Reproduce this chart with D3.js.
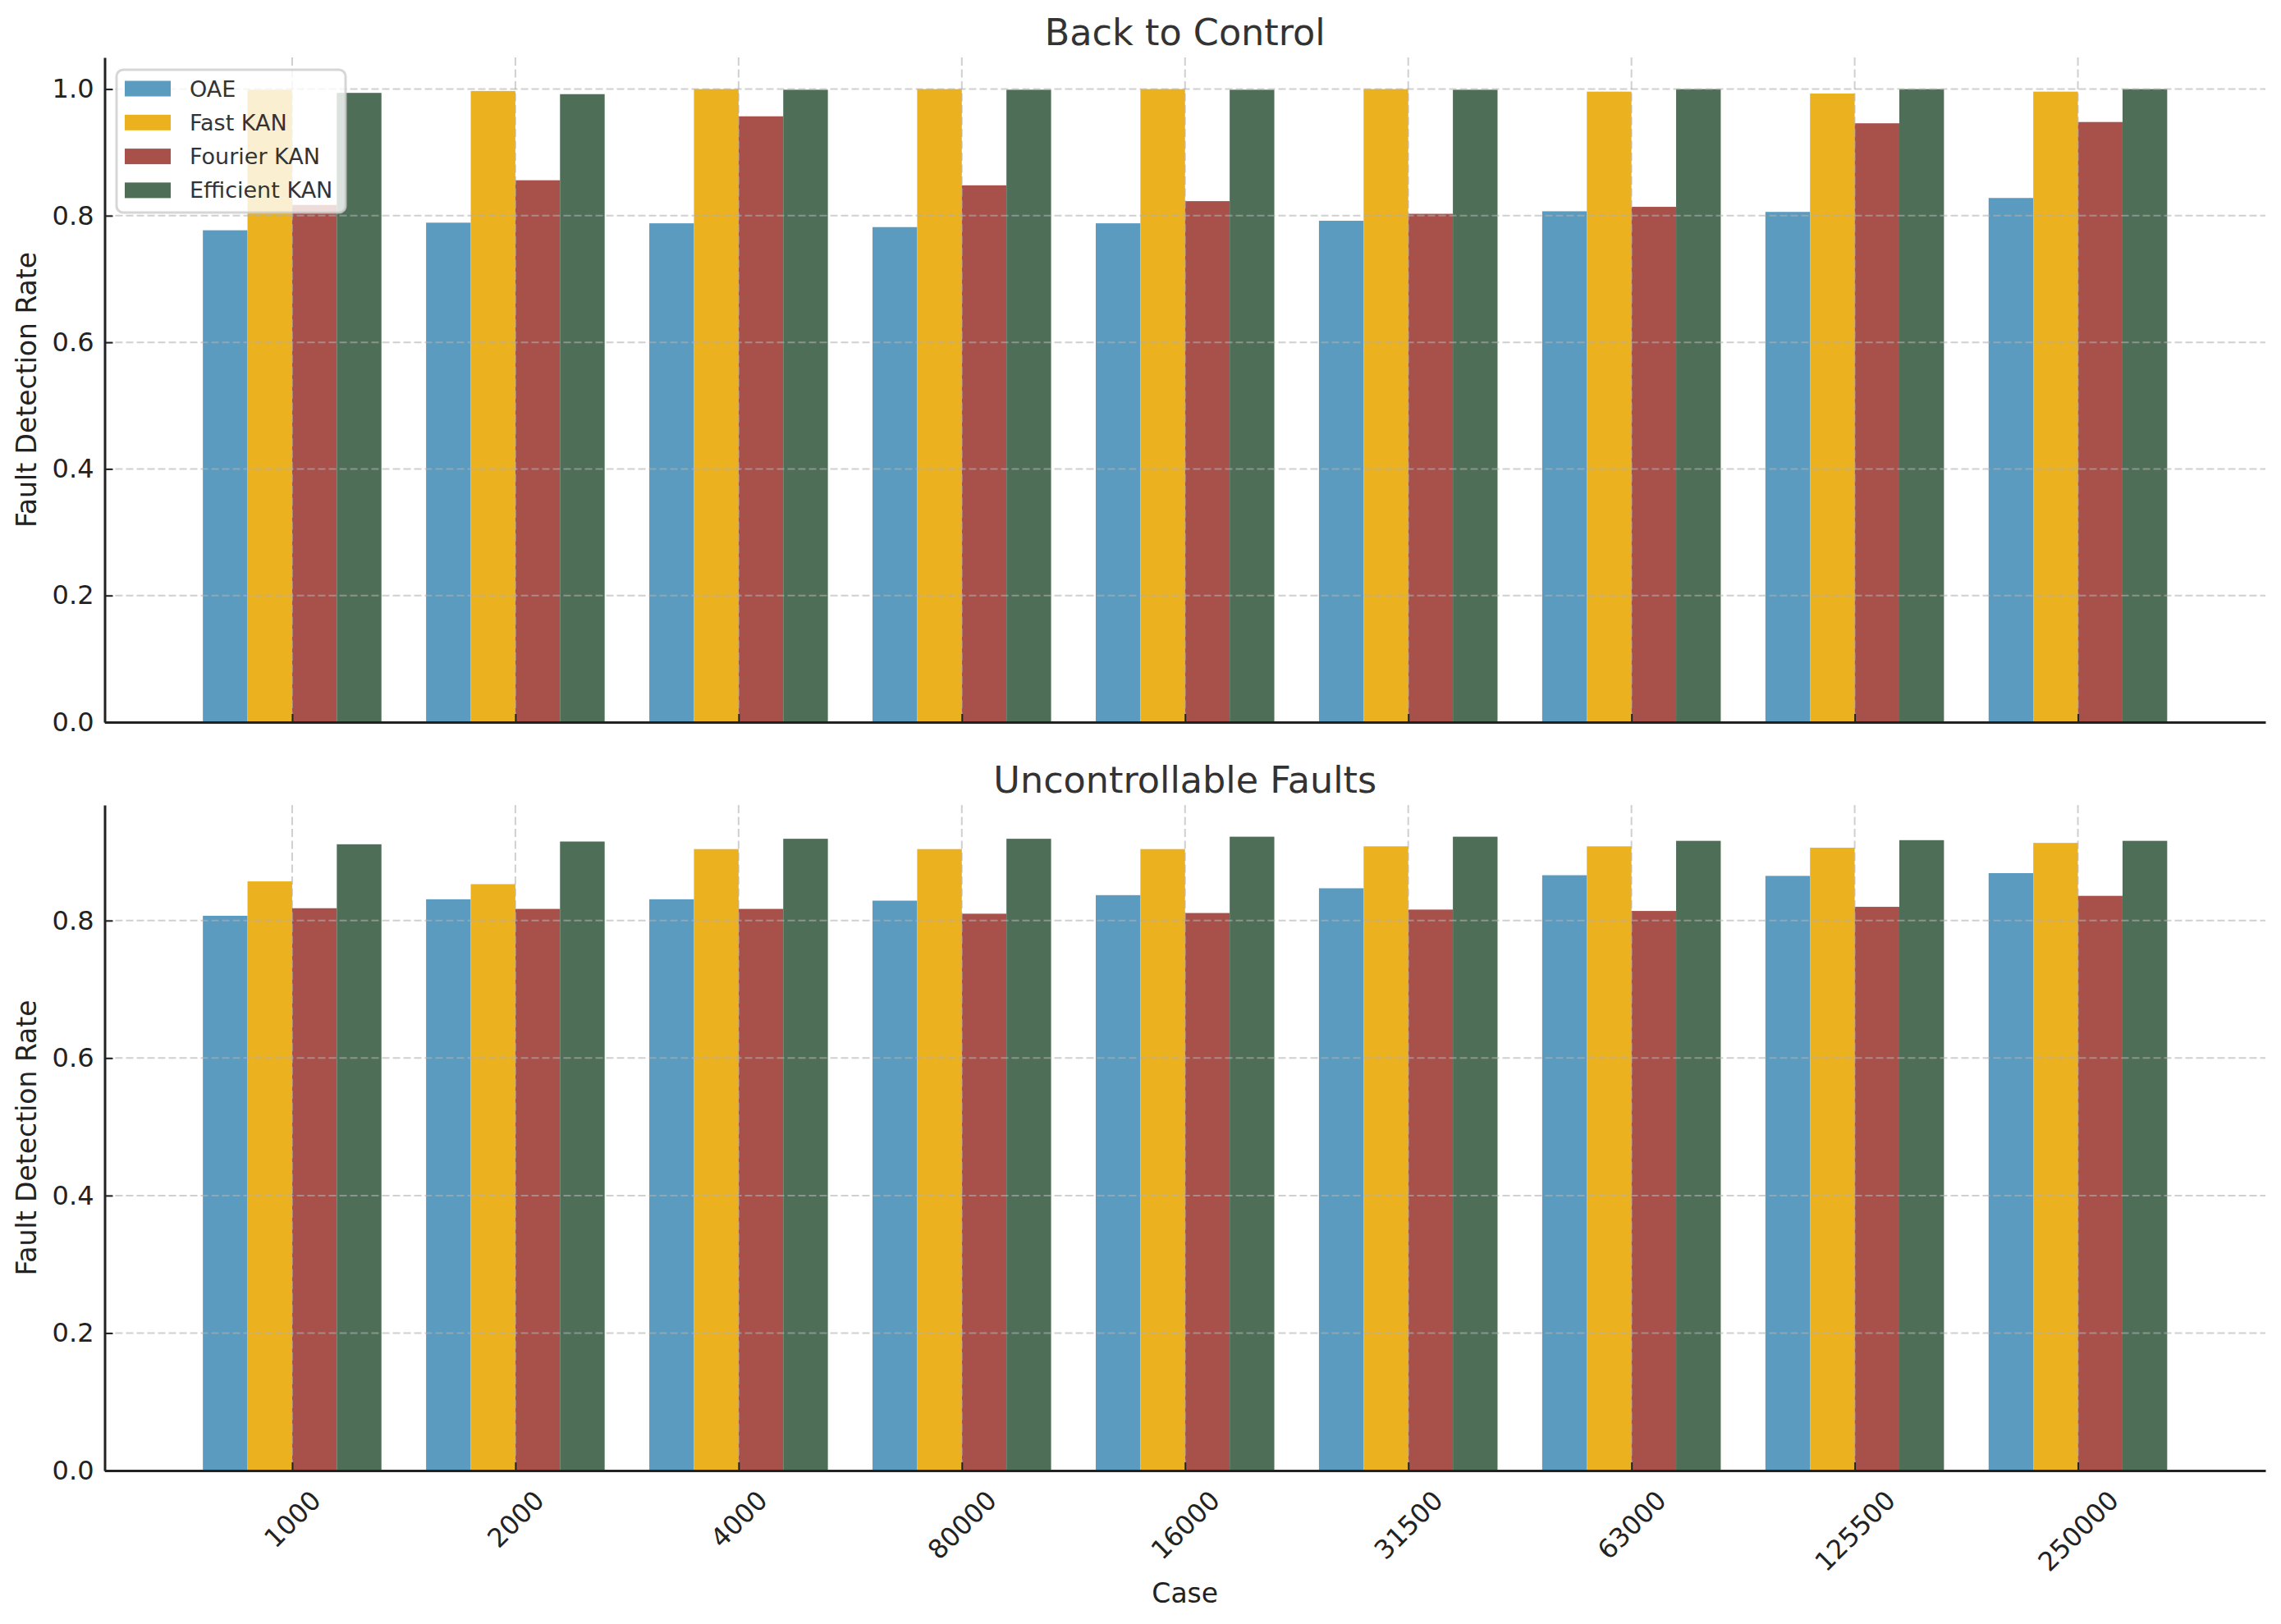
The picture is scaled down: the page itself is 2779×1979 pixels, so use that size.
<!doctype html>
<html>
  <head>
    <meta charset="utf-8" />
    <title>Fault Detection Rate</title>
    <script src="https://cdn.jsdelivr.net/npm/d3@7/dist/d3.min.js"></script>
    <style>
      html,
      body {
        margin: 0;
        padding: 0;
        background: #fff;
        overflow: hidden;
      }
      text {
        font-family: "DejaVu Sans", sans-serif;
      }
    </style>
  </head>
  <body>
    <script>
      // chart data
      const cases = ["1000", "2000", "4000", "80000", "16000", "31500", "63000", "125500", "250000"];
      const models = ["OAE", "Fast KAN", "Fourier KAN", "Efficient KAN"];
      const colors = ["#5b9bbf", "#ecb11f", "#a8504a", "#4f6e57"];

      // Back to Control
      const bcOAE = [0.777, 0.789, 0.788, 0.782, 0.788, 0.792, 0.807, 0.806, 0.828];
      const bcFast = [0.999, 0.997, 1.0, 1.0, 1.0, 1.0, 0.996, 0.993, 0.996];
      const bcFourier = [0.817, 0.856, 0.957, 0.848, 0.823, 0.803, 0.814, 0.946, 0.948];
      const bcEfficient = [0.994, 0.992, 0.999, 0.999, 0.999, 0.999, 1.0, 1.0, 1.0];

      // Uncontrollable Faults
      const ufOAE = [0.807, 0.831, 0.831, 0.829, 0.837, 0.847, 0.866, 0.865, 0.869];
      const ufFast = [0.857, 0.853, 0.904, 0.904, 0.904, 0.908, 0.908, 0.906, 0.913];
      const ufFourier = [0.818, 0.817, 0.817, 0.810, 0.811, 0.816, 0.814, 0.820, 0.836];
      const ufEfficient = [0.911, 0.915, 0.919, 0.919, 0.922, 0.922, 0.916, 0.917, 0.916];

      const yTicksTop = [0, 0.2, 0.4, 0.6, 0.8, 1.0];
      const yTicksBottom = [0, 0.2, 0.4, 0.6, 0.8];

      const width = 2779;
      const height = 1979;
      const left = 127.5;
      const right = 2760;
      const barWidth = 0.2;

      const panels = [
        { title: "Back to Control", series: [bcOAE, bcFast, bcFourier, bcEfficient], top: 70, bottom: 880, ticks: yTicksTop, labels: false, legend: true },
        { title: "Uncontrollable Faults", series: [ufOAE, ufFast, ufFourier, ufEfficient], top: 981, bottom: 1792, ticks: yTicksBottom, labels: true, legend: false },
      ];

      const svg = d3
        .select("body")
        .append("svg")
        .attr("width", width)
        .attr("height", height);

      // bar positions like matplotlib: index -0.4..8.4 plus 5% margin
      const x = d3.scaleLinear().domain([-0.84, cases.length - 1 + 0.84]).range([left, right]);

      panels.forEach((p) => {
        const maxVal = d3.max(p.series.flat());
        const y = d3.scaleLinear().domain([0, maxVal * 1.05]).range([p.bottom, p.top]);
        const g = svg.append("g");

        // bars
        p.series.forEach((vals, k) => {
          g.append("g")
            .attr("fill", colors[k])
            .selectAll("rect")
            .data(vals)
            .join("rect")
            .attr("x", (d, i) => x(i + (k - 1.5) * barWidth - barWidth / 2))
            .attr("width", x(barWidth) - x(0))
            .attr("y", (d) => y(d))
            .attr("height", (d) => y(0) - y(d));
        });

        // grid on top of bars
        const grid = g.append("g").attr("stroke", "#b0b0b0").attr("stroke-opacity", 0.6).attr("stroke-width", 2);
        grid
          .selectAll("line.h")
          .data(p.ticks.filter((t) => t > 0))
          .join("line")
          .attr("class", "h")
          .attr("x1", left)
          .attr("x2", right)
          .attr("y1", (d) => y(d))
          .attr("y2", (d) => y(d))
          .attr("stroke-dasharray", "9,4");
        grid
          .selectAll("line.v")
          .data(d3.range(cases.length))
          .join("line")
          .attr("class", "v")
          .attr("x1", (d) => x(d))
          .attr("x2", (d) => x(d))
          .attr("y1", p.top)
          .attr("y2", p.bottom)
          .attr("stroke-dasharray", "10,4.5");

        // axes
        const yAxis = g
          .append("g")
          .attr("transform", `translate(${left},0)`)
          .call(d3.axisLeft(y).tickValues(p.ticks).tickFormat(d3.format(".1f")).tickSize(-10).tickSizeOuter(0).tickPadding(13));
        yAxis.select(".domain").attr("stroke", "#222").attr("stroke-width", 3);
        yAxis.selectAll(".tick line").attr("stroke", "#222").attr("stroke-width", 2);
        yAxis.selectAll(".tick text").attr("font-size", 32).attr("fill", "#222").attr("font-family", "DejaVu Sans");

        const xAxis = g
          .append("g")
          .attr("transform", `translate(0,${p.bottom})`)
          .call(
            d3
              .axisBottom(x)
              .tickValues(d3.range(cases.length))
              .tickFormat((i) => (p.labels ? cases[i] : ""))
              .tickSize(-10)
              .tickSizeOuter(0)
          );
        xAxis.select(".domain").attr("stroke", "#222").attr("stroke-width", 3);
        xAxis.selectAll(".tick line").attr("stroke", "#222").attr("stroke-width", 2);
        if (p.labels) {
          xAxis.selectAll(".tick text").each(function () {
            const t = d3.select(this);
            t.attr("font-size", 32).attr("fill", "#222").attr("font-family", "DejaVu Sans")
              .attr("text-anchor", "middle").attr("dy", null).attr("y", 0).attr("dominant-baseline", "central");
            const w = this.getComputedTextLength();
            const h = 30;
            const cy = 20 + (w + h) / (2 * Math.SQRT2);
            t.attr("transform", `translate(0,${cy}) rotate(-45)`);
          });
        } else {
          xAxis.selectAll(".tick text").remove();
        }

        // title
        svg.append("text")
          .attr("x", (left + right) / 2)
          .attr("y", p.top - 15)
          .attr("text-anchor", "middle")
          .attr("font-size", 44.5)
          .attr("fill", "#333")
          .text(p.title);

        // y label
        svg.append("text")
          .attr("transform", `translate(44,${(p.top + p.bottom) / 2}) rotate(-90)`)
          .attr("text-anchor", "middle")
          .attr("font-size", 33)
          .attr("fill", "#222")
          .text("Fault Detection Rate");

        if (p.legend) {
          const lg = svg.append("g");
          lg.append("rect")
            .attr("x", 142)
            .attr("y", 85)
            .attr("width", 279)
            .attr("height", 174)
            .attr("rx", 8)
            .attr("fill", "#fff")
            .attr("fill-opacity", 0.8)
            .attr("stroke", "#cccccc")
            .attr("stroke-opacity", 0.8)
            .attr("stroke-width", 3);
          const item = lg
            .selectAll("g.item")
            .data(models)
            .join("g")
            .attr("class", "item")
            .attr("transform", (d, i) => `translate(0,${108 + i * 41.3})`);
          item.append("rect")
            .attr("x", 152)
            .attr("y", -9.5)
            .attr("width", 56)
            .attr("height", 19)
            .attr("fill", (d, i) => colors[i]);
          item.append("text")
            .attr("x", 231)
            .attr("y", 0)
            .attr("dominant-baseline", "central")
            .attr("font-size", 27)
            .attr("fill", "#333")
            .text((d) => d);
        }
      });

      // x label
      svg.append("text")
        .attr("x", (left + right) / 2)
        .attr("y", 1953)
        .attr("text-anchor", "middle")
        .attr("font-size", 33)
        .attr("fill", "#222")
        .text("Case");
    </script>
  </body>
</html>
